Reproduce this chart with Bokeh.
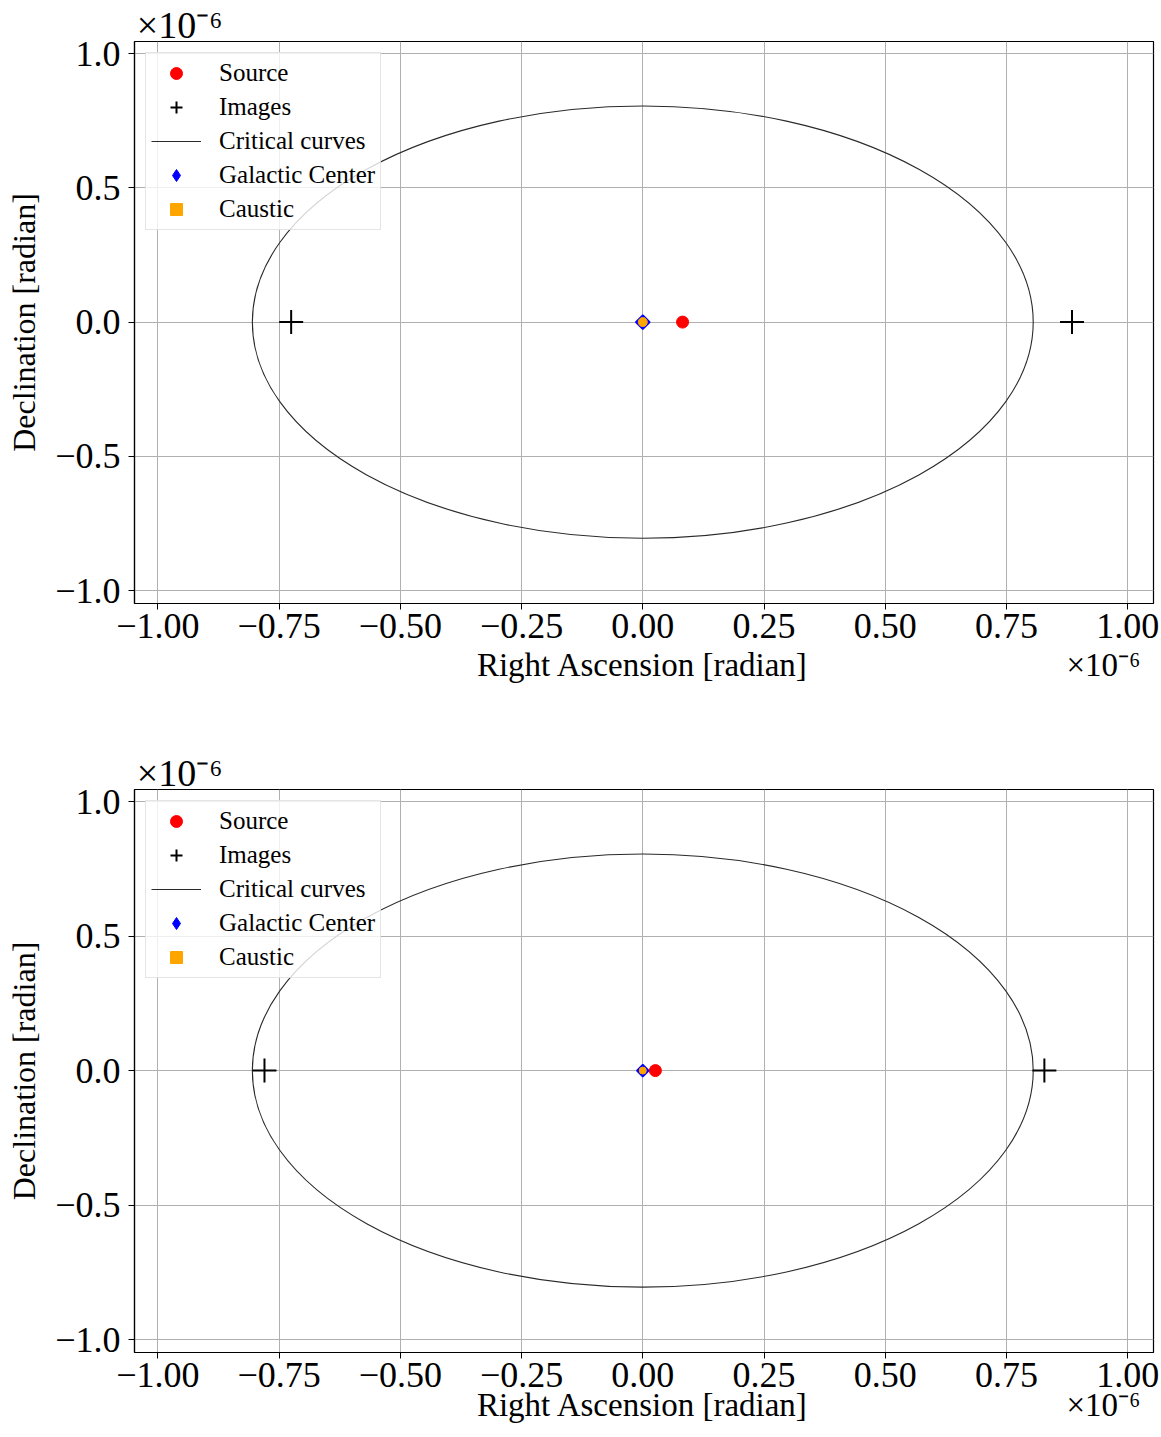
import numpy as np
from bokeh.plotting import figure
from bokeh.models import (Range1d, FixedTicker, CustomJSTickFormatter,
                          Legend, LegendItem, LinearAxis)
from bokeh.layouts import column
from bokeh.embed import file_html
from bokeh.resources import INLINE

# ---- data (positions in units of 1e-6 radian) ----
x_ticks = [-1.0, -0.75, -0.5, -0.25, 0.0, 0.25, 0.5, 0.75, 1.0]
y_ticks = [-1.0, -0.5, 0.0, 0.5, 1.0]

top_source_ra = [0.082]
top_source_dec = [0.0]
top_images_ra = [-0.725, 0.885]
top_images_dec = [0.0, 0.0]
top_gc_ra = [0.0]
top_gc_dec = [0.0]
top_caustic_ra = [0.0]
top_caustic_dec = [0.0]
top_crit_radius = [0.805]

bot_source_ra = [0.026]
bot_source_dec = [0.0]
bot_images_ra = [-0.780, 0.828]
bot_images_dec = [0.0, 0.0]
bot_gc_ra = [0.0]
bot_gc_dec = [0.0]
bot_caustic_ra = [0.0]
bot_caustic_dec = [0.0]
bot_crit_radius = [0.805]

x_label = "Right Ascension [radian]"
y_label = "Declination [radian]"
offset_text = "\u00d710\u207b\u2076"

FONT = "Liberation Serif"
NAN = [float("nan")]


def style_text_axis(ax):
    ax.major_tick_out = 0
    ax.major_tick_in = 0
    ax.major_tick_line_color = None
    ax.minor_tick_line_color = None
    ax.axis_line_color = None
    ax.major_label_text_font = FONT
    ax.major_label_text_color = "black"


def make_panel(src_ra, src_dec, img_ra, img_dec, gc_ra, gc_dec, ca_ra, ca_dec,
               radius, gc_size, ca_size, height, border_bottom, lab_standoff):
    p = figure(width=1161, height=height, output_backend="svg",
               toolbar_location=None,
               x_range=Range1d(-1.048, 1.053), y_range=Range1d(-1.048, 1.045),
               min_border_left=134, min_border_right=8, min_border_top=40,
               min_border_bottom=border_bottom)
    p.background_fill_color = "white"
    p.border_fill_color = "white"
    p.outline_line_color = "black"
    p.outline_line_width = 1.2
    p.outline_line_alpha = 1.0

    for ax, ticks, dec in ((p.xaxis[0], x_ticks, 2), (p.yaxis[0], y_ticks, 1)):
        ax.ticker = FixedTicker(ticks=ticks)
        ax.formatter = CustomJSTickFormatter(
            code="return (tick < 0 ? '\\u2212' : '') + Math.abs(tick).toFixed(%d);" % dec)
        ax.major_label_text_font = FONT
        ax.major_label_text_font_size = "36px"
        ax.major_label_text_color = "black"
        ax.axis_label_text_font = FONT
        ax.axis_label_text_font_size = "32px"
        ax.axis_label_text_font_style = "normal"
        ax.axis_label_text_color = "black"
        ax.major_tick_out = 6
        ax.major_tick_in = 0
        ax.major_tick_line_color = "black"
        ax.minor_tick_line_color = None
        ax.axis_line_color = "black"
        ax.axis_line_width = 1.2
    p.yaxis[0].axis_label = y_label
    p.xaxis[0].major_label_standoff = 4
    p.yaxis[0].major_label_standoff = 8
    p.yaxis[0].axis_label_standoff = 10

    # second row below: x-axis title and offset text on one line
    lab_ax = LinearAxis(ticker=FixedTicker(ticks=[0.0, 0.95]),
                        formatter=CustomJSTickFormatter(
                            args=dict(lab=x_label, off=offset_text),
                            code="return Math.abs(tick) < 1e-9 ? lab : off;"))
    style_text_axis(lab_ax)
    lab_ax.major_label_text_font_size = "33px"
    lab_ax.major_label_standoff = lab_standoff
    p.add_layout(lab_ax, "below")

    # offset text above the top-left corner
    top_ax = LinearAxis(ticker=FixedTicker(ticks=[-0.955]),
                        formatter=CustomJSTickFormatter(
                            args=dict(off=offset_text), code="return off;"))
    style_text_axis(top_ax)
    top_ax.major_label_text_font_size = "38px"
    top_ax.major_label_standoff = -4
    p.add_layout(top_ax, "above")

    for g in (p.xgrid[0], p.ygrid[0]):
        g.grid_line_color = "#b0b0b0"
        g.grid_line_width = 1
    p.xgrid[0].ticker = FixedTicker(ticks=x_ticks)
    p.ygrid[0].ticker = FixedTicker(ticks=y_ticks)

    # critical curve (circle of Einstein radius)
    p.ellipse(x=[0.0], y=[0.0], width=[2 * r for r in radius],
              height=[2 * r for r in radius], fill_color=None,
              line_color="#2a2a2a", line_width=1.1)
    crit_leg = p.line(x=NAN, y=NAN, line_color="#2a2a2a", line_width=1.1)

    r_src = p.scatter(x=src_ra, y=src_dec, marker="circle", size=12,
                      fill_color="red", line_color="red")
    r_img = p.scatter(x=img_ra, y=img_dec, marker="cross", size=24,
                      line_color="black", line_width=2)
    p.scatter(x=gc_ra, y=gc_dec, marker="square", angle=np.pi / 4,
              size=gc_size, fill_color="blue", line_color="blue",
              line_width=1.5)
    gc_leg = p.scatter(x=NAN, y=NAN, marker="diamond",
                       fill_color="blue", line_color="blue")
    p.scatter(x=ca_ra, y=ca_dec, marker="circle", size=ca_size,
              fill_color="orange", line_color="orange")
    ca_leg = p.scatter(x=NAN, y=NAN, marker="square", size=6,
                       fill_color="orange", line_color="orange")

    legend = Legend(items=[
        LegendItem(label="Source", renderers=[r_src]),
        LegendItem(label="Images", renderers=[r_img]),
        LegendItem(label="Critical curves", renderers=[crit_leg]),
        LegendItem(label="Galactic Center", renderers=[gc_leg]),
        LegendItem(label="Caustic", renderers=[ca_leg]),
    ], location="top_left")
    legend.label_text_font = FONT
    legend.label_text_font_size = "25px"
    legend.label_text_color = "black"
    legend.label_standoff = 18
    legend.glyph_width = 50
    legend.glyph_height = 30
    legend.spacing = 4
    legend.padding = 5
    legend.margin = 11
    legend.border_line_color = "#cccccc"
    legend.border_line_width = 1
    legend.background_fill_alpha = 0.8
    p.add_layout(legend)
    return p


p1 = make_panel(top_source_ra, top_source_dec, top_images_ra, top_images_dec,
                top_gc_ra, top_gc_dec, top_caustic_ra, top_caustic_dec,
                top_crit_radius, 10, 9, 748, 145, 6)
p2 = make_panel(bot_source_ra, bot_source_dec, bot_images_ra, bot_images_dec,
                bot_gc_ra, bot_gc_dec, bot_caustic_ra, bot_caustic_dec,
                bot_crit_radius, 8.5, 7, 689, 85, -3)

layout = column(p1, p2, spacing=0)
open("out.html", "w").write(file_html(layout, INLINE))
